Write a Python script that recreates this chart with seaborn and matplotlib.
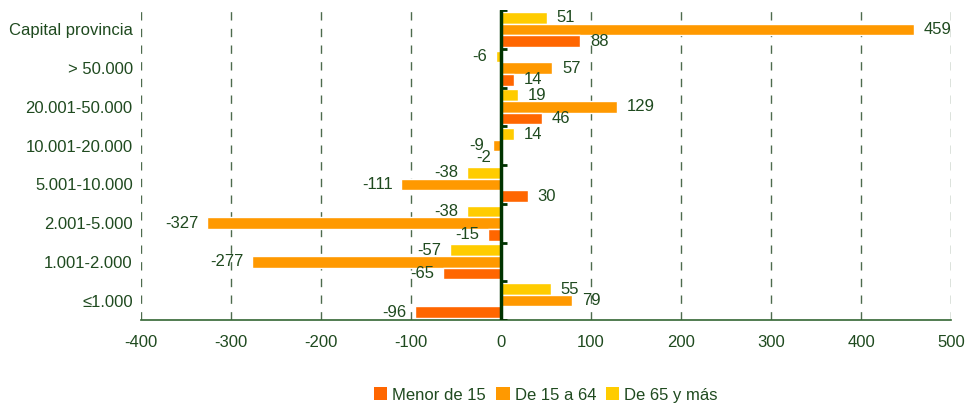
import matplotlib
matplotlib.use("Agg")
import matplotlib.pyplot as plt
import seaborn as sns
import pandas as pd
import numpy as np
from matplotlib.patches import Patch

categories = ["Capital provincia", "> 50.000", "20.001-50.000", "10.001-20.000",
              "5.001-10.000", "2.001-5.000", "1.001-2.000", "≤1.000"]
menor_15 = [88, 14, 46, -2, 30, -15, -65, -96]
de_15_64 = [459, 57, 129, -9, -111, -327, -277, 79]
de_65_mas = [51, -6, 19, 14, -38, -38, -57, 55]
series_names = ["Menor de 15", "De 15 a 64", "De 65 y más"]
colors = {"Menor de 15": "#FF6600", "De 15 a 64": "#FF9900", "De 65 y más": "#FFCC00"}
x_ticks = [-400, -300, -200, -100, 0, 100, 200, 300, 400, 500]

sns.set_theme(style="white")
plt.rcParams["font.family"] = ["Liberation Sans", "DejaVu Sans"]
txt = "#1f4a1f"

rows = []
for name, vals in zip(series_names, [menor_15, de_15_64, de_65_mas]):
    for c, v in zip(categories, vals):
        rows.append({"grupo": c, "serie": name, "valor": v})
df = pd.DataFrame(rows)

fig = plt.figure(figsize=(9.68, 4.11), dpi=100)
ax = fig.add_axes([141 / 968, 1 - 320 / 411, 810 / 968, 310 / 411])

hue_order = ["De 65 y más", "De 15 a 64", "Menor de 15"]
sns.barplot(data=df, y="grupo", x="valor", hue="serie", order=categories,
            hue_order=hue_order, palette=colors, orient="h", width=0.9,
            saturation=1, ax=ax, legend=False)

ax.set_xlim(x_ticks[0], x_ticks[-1])
ax.set_ylim(len(categories) - 0.5, -0.5)
ax.set_xticks(x_ticks)
ax.set_xticklabels([str(t) for t in x_ticks], fontsize=12, color=txt)
ax.set_yticks(range(len(categories)))
ax.set_yticklabels(categories, fontsize=12, color=txt)
ax.tick_params(axis="y", length=0, pad=6)
ax.tick_params(axis="x", length=5, color="#336633", width=1, direction="inout", pad=8)
ax.set_xlabel("")
ax.set_ylabel("")

for t in x_ticks:
    if t != 0:
        ax.axvline(t, color="#4d6b4d", lw=1, ls=(0, (6, 6)), zorder=0)

for s in ["top", "right", "left"]:
    ax.spines[s].set_visible(False)
ax.spines["bottom"].set_color("#336633")
ax.spines["bottom"].set_linewidth(1.2)

# zero axis with category separators
ax.axvline(0, color="#003300", lw=2.5, zorder=5)
bounds = np.arange(len(categories) + 1) - 0.5
ax.hlines(bounds, 0, 7, color="#003300", lw=2, zorder=5)

# value labels
for cont, name in zip(ax.containers, hue_order):
    for bar, v in zip(cont, df[df.serie == name]["valor"]):
        y = bar.get_y() + bar.get_height() / 2
        if v >= 0:
            ax.annotate(str(v), (v, y), xytext=(7, 0), textcoords="offset points",
                        ha="left", va="center", fontsize=12, color=txt)
        else:
            ax.annotate(str(v), (v, y), xytext=(-6, 0), textcoords="offset points",
                        ha="right", va="center", fontsize=12, color=txt)

handles = [Patch(facecolor=colors[n], edgecolor="none") for n in series_names]
fig.legend(handles, series_names, loc="center", bbox_to_anchor=(546 / 968, 1 - 395 / 411),
           ncol=3, frameon=False, fontsize=12, handlelength=0.8, handleheight=0.8,
           handletextpad=0.3, columnspacing=0.6, labelcolor=txt)

fig.savefig("out.png", dpi=100)
